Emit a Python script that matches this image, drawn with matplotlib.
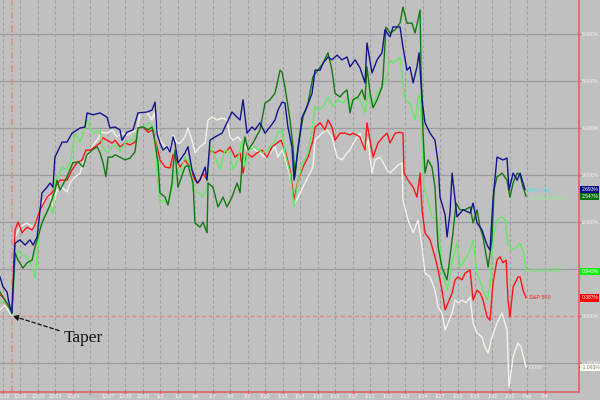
import matplotlib
matplotlib.use("Agg")
import matplotlib.pyplot as plt
import matplotlib.transforms as mtransforms

# ---- data (time in trading-day index from 12/18, values in % change) ----
day_labels = ["12/18", "12/19", "12/20", "12/23", "12/24", "", "12/27", "12/30", "12/31",
              "1/2", "1/3", "1/6", "1/7", "1/8", "1/9", "1/10", "1/13", "1/14", "1/15",
              "1/16", "1/17", "1/21", "1/22", "1/23", "1/24", "1/27", "1/28", "1/29",
              "1/30", "1/31", "Feb", "2/4"]
taper_day = 0.51

nasdaq_t = [-0.17, 0, 0.23, 0.34, 0.51, 0.69, 0.97, 1.26, 1.54, 1.72, 1.95, 2.23, 2.52, 2.69, 2.86,
            2.97, 3.38, 3.66, 3.95, 4.41, 4.69, 4.81, 5.15, 5.55, 5.95, 6.12, 6.41, 6.69, 6.81,
            7.09, 7.44, 7.72, 8.24, 8.52, 8.70, 8.81, 8.98, 9.15, 9.38, 9.55, 9.73, 9.84, 10.01,
            10.13, 10.41, 10.58, 10.81, 11.10, 11.27, 11.56, 11.67, 11.84, 12.13, 12.53, 12.81,
            13.10, 13.39, 13.56, 13.73, 13.96, 14.24, 14.42, 14.70, 14.99, 15.27, 15.56, 15.73,
            15.96, 16.13, 16.30, 16.53, 16.65, 16.82, 17.11, 17.39, 17.68, 17.85, 18.14, 18.31,
            18.59, 18.82, 19.11, 19.39, 19.68, 19.85, 20.14, 20.42, 20.71, 20.82, 21.11, 21.40,
            21.68, 21.85, 22.14, 22.31, 22.71, 22.88, 23.11, 23.28, 23.46, 23.68, 23.80, 23.97,
            24.14, 24.43, 24.71, 24.89, 25.00, 25.29, 25.40, 25.57, 25.69, 25.86, 25.97, 26.32,
            26.72, 26.89, 27.12, 27.40, 27.69, 27.86, 28.03, 28.26, 28.60, 28.83, 28.95, 29.18,
            29.41, 29.58, 29.86]
nasdaq_v = [0.83, 0.62, 0.51, 0.28, 0.06, 1.55, 1.62, 1.51, 1.62, 1.51, 1.68, 2.62, 2.74, 2.83, 2.74,
            3.38, 3.70, 3.70, 3.89, 4.00, 4.02, 4.32, 4.28, 4.32, 4.23, 4.00, 4.02, 3.96, 3.74,
            3.91, 3.96, 4.32, 4.34, 4.38, 4.55, 3.89, 3.68, 3.53, 3.60, 3.49, 3.81, 3.68, 3.26,
            3.32, 3.47, 3.60, 3.11, 2.83, 2.89, 3.17, 2.89, 3.74, 3.81, 3.89, 4.11,
            4.34, 4.23, 4.17, 4.60, 3.89, 4.02, 3.96, 4.11, 3.89, 4.02, 4.17, 4.38,
            4.55, 4.53, 4.02, 3.60, 2.89, 3.38, 4.23, 4.45, 4.74, 5.23, 5.23, 5.38,
            5.51, 5.45, 5.55, 5.45, 5.51, 5.30, 5.45, 5.28, 4.96, 5.81, 5.17, 5.45,
            5.60, 6.09, 5.94, 6.15, 6.15, 5.72, 5.23, 5.30, 4.96, 5.30, 5.60, 4.60,
            4.11, 3.89, 3.74, 3.26, 2.53, 2.15, 1.68, 2.19, 3.04, 2.47, 2.11, 2.26,
            2.19, 2.40, 1.98, 1.83, 1.51, 1.40, 2.47, 3.38, 3.32, 3.36, 2.68, 3.04,
            2.89, 3.04, 2.69]

transports_t = [-0.17, 0, 0.23, 0.51, 0.69, 0.86, 1.14, 1.37, 1.66, 1.83, 2.00, 2.23, 2.69, 2.97,
                3.09, 3.26, 3.66, 4.00, 4.29, 4.58, 4.81, 5.09, 5.38, 5.55, 5.72, 5.89, 6.01, 6.24,
                6.41, 6.69, 6.98, 7.27, 7.55, 7.72, 8.01, 8.30, 8.52, 8.64, 8.87, 8.98, 9.27, 9.44,
                9.67, 9.73, 9.84, 10.01, 10.41, 10.58, 10.87, 10.98, 11.27, 11.44, 11.67, 11.73,
                12.01, 12.30, 12.59, 12.81, 13.10, 13.39, 13.56, 13.73, 13.84, 14.02, 14.30, 14.70,
                14.99, 15.27, 15.56, 15.85, 15.96, 16.13, 16.42, 16.59, 16.70, 16.88, 17.16, 17.45,
                17.73, 18.02, 18.31, 18.59, 18.82, 18.99, 19.28, 19.45, 19.68, 19.85, 20.02, 20.31,
                20.54, 20.71, 20.82, 21.00, 21.17, 21.40, 21.68, 21.74, 21.91, 22.14, 22.43, 22.71,
                22.88, 23.11, 23.40, 23.57, 23.74, 23.86, 23.91, 24.03, 24.14, 24.31, 24.54, 24.71,
                24.89, 25.11, 25.40, 25.57, 25.74, 25.92, 26.14, 26.43, 26.72, 26.89, 27.12, 27.29,
                27.46, 27.75, 27.97, 28.09, 28.26, 28.55, 28.83, 29.00, 29.18, 29.41, 29.58, 29.75,
                29.92]
transports_v = [0.51, 0.40, 0.28, 0.06, 1.34, 1.19, 1.02, 1.13, 1.19, 1.47, 1.68, 1.98, 2.36, 2.68,
                2.89, 2.68, 2.96, 3.26, 3.28, 3.17, 3.43, 3.53, 3.60, 3.47, 3.26, 2.96, 3.38, 3.38,
                3.43, 3.38, 3.32, 3.36, 3.49, 4.00, 4.02, 3.96, 4.02, 3.81, 3.26, 2.62, 2.53, 2.36,
                2.83, 3.17, 3.53, 2.74, 3.17, 3.21, 2.83, 1.98, 1.89, 2.00, 1.77, 2.83,
                2.74, 2.32, 2.53, 2.32, 2.53, 2.83, 2.62, 3.53, 3.81, 3.53, 3.68, 3.96,
                4.53, 4.60, 4.74, 5.23, 5.19, 4.87, 4.17, 3.60, 2.96, 3.60, 4.23, 4.53,
                5.09, 5.23, 5.38, 5.60, 5.23, 4.74, 4.66, 4.74, 4.81, 4.32, 4.60, 4.66,
                4.81, 4.60, 5.30, 4.74, 4.43, 4.60, 4.87, 5.09, 6.15, 6.02, 6.09, 6.23,
                6.57, 6.23, 6.23, 6.02, 6.30, 6.51, 5.30, 3.89, 3.04, 3.32, 3.17, 2.74,
                1.47, 1.04, 0.77, 1.26, 1.77, 2.40, 2.26, 2.26, 2.32, 1.98, 2.26, 1.89,
                1.68, 1.04, 1.62, 2.68, 2.96, 3.04, 2.89, 2.53, 2.83, 3.04, 3.00, 2.74,
                2.55]

russell_t = [-0.17, 0.11, 0.40, 0.51, 0.69, 0.86, 1.09, 1.37, 1.54, 1.72, 1.83, 1.95, 2.12, 2.40,
             2.69, 2.86, 2.97, 3.15, 3.38, 3.66, 3.83, 4.00, 4.12, 4.41, 4.58, 4.81, 4.98, 5.26,
             5.55, 5.72, 5.95, 6.24, 6.52, 6.69, 6.98, 7.27, 7.55, 7.72, 8.01, 8.41, 8.70, 8.81,
             8.98, 9.15, 9.44, 9.67, 9.73, 9.90, 10.13, 10.41, 10.70, 10.87, 11.16, 11.44, 11.67,
             11.84, 12.13, 12.41, 12.70, 12.99, 13.16, 13.44, 13.67, 13.84, 14.02, 14.42, 14.82,
             15.16, 15.56, 15.73, 15.96, 16.13, 16.42, 16.65, 16.88, 17.16, 17.45, 17.68, 17.85,
             18.02, 18.31, 18.59, 18.88, 19.16, 19.45, 19.74, 19.85, 20.14, 20.42, 20.71, 20.88,
             21.11, 21.40, 21.68, 21.97, 22.14, 22.31, 22.54, 22.71, 22.88, 23.00, 23.28, 23.57,
             23.74, 23.86, 23.97, 24.08, 24.31, 24.54, 24.83, 25.00, 25.17, 25.40, 25.57, 25.74,
             25.97, 26.14, 26.43, 26.72, 26.89, 27.12, 27.40, 27.69, 27.86, 28.03, 28.26, 28.55,
             28.72, 28.89, 29.12, 29.41, 29.58, 29.75, 29.92]
russell_v = [0.28, 0.34, 0.13, 0.02, 1.15, 1.40, 1.30, 1.26, 1.15, 0.98, 0.81, 1.30, 1.89, 2.15,
             2.32, 2.19, 2.89, 2.96, 3.17, 3.11, 3.26, 3.60, 3.89, 3.70, 3.89, 4.23, 3.96, 3.89,
             3.96, 3.60, 3.47, 3.60, 3.64, 3.49, 3.68, 3.74, 3.74, 4.00, 4.02, 4.11, 3.96, 3.04,
             2.40, 2.47, 2.40, 2.68, 2.89, 3.11, 3.04, 3.38, 3.26, 2.68, 2.62, 2.53, 2.74,
             3.60, 3.38, 3.11, 3.53, 3.47, 3.11, 3.32, 3.74, 3.17, 3.53, 3.60, 3.47,
             3.53, 3.74, 3.89, 3.96, 3.47, 3.04, 2.32, 2.89, 3.26, 3.47, 3.96, 4.45,
             4.38, 4.45, 4.66, 4.45, 4.60, 4.53, 4.66, 4.45, 4.66, 4.60, 4.32, 4.74,
             4.45, 4.74, 4.87, 5.09, 5.45, 5.38, 5.45, 5.51, 4.96, 4.60, 4.53, 4.17,
             4.60, 4.74, 3.74, 2.74, 2.47, 2.11, 2.04, 1.47, 0.91, 0.55, 0.83, 1.26,
             1.55, 1.04, 1.19, 1.40, 1.62, 0.91, 0.62, 0.34, 0.62, 1.68, 2.04, 2.11,
             2.04, 1.55, 1.40, 1.47, 1.55, 1.40, 0.96]

sp500_t = [-0.17, 0, 0.23, 0.51, 0.69, 0.86, 1.09, 1.37, 1.66, 1.83, 2.12, 2.52, 2.80, 2.97, 3.26,
           3.66, 3.95, 4.23, 4.52, 4.75, 4.98, 5.26, 5.55, 5.72, 5.95, 6.24, 6.41, 6.69, 6.98,
           7.27, 7.55, 7.72, 8.01, 8.30, 8.58, 8.81, 8.98, 9.27, 9.55, 9.73, 9.95, 10.13, 10.41,
           10.70, 10.98, 11.16, 11.44, 11.67, 11.84, 12.13, 12.41, 12.70, 12.99, 13.27, 13.56,
           13.73, 13.96, 14.24, 14.53, 14.82, 15.10, 15.39, 15.68, 15.90, 16.13, 16.42, 16.65,
           16.88, 17.16, 17.45, 17.73, 17.85, 18.14, 18.42, 18.59, 18.82, 18.99, 19.28, 19.57,
           19.85, 20.02, 20.42, 20.71, 20.82, 21.00, 21.17, 21.45, 21.74, 21.97, 22.14, 22.43,
           22.71, 22.88, 22.94, 23.17, 23.46, 23.68, 23.86, 23.97, 24.14, 24.43, 24.71, 24.89,
           25.11, 25.29, 25.46, 25.69, 25.86, 26.03, 26.26, 26.43, 26.72, 26.89, 27.12, 27.29,
           27.46, 27.69, 27.86, 28.03, 28.26, 28.43, 28.60, 28.78, 28.89, 29.00, 29.18, 29.46,
           29.58, 29.75, 29.92]
sp500_v = [0.45, 0.40, 0.23, 0.09, 1.83, 2.00, 1.77, 1.89, 1.83, 1.94, 2.26, 2.53, 2.62, 2.74, 2.89,
           2.89, 3.11, 3.26, 3.32, 3.53, 3.53, 3.60, 3.68, 3.79, 3.74, 3.68, 3.74, 3.60, 3.68,
           3.64, 3.70, 4.00, 4.02, 3.91, 3.96, 3.60, 3.32, 3.17, 3.15, 3.43, 3.32, 3.17, 3.32,
           3.17, 2.89, 2.83, 3.04, 2.89, 3.53, 3.47, 3.53, 3.47, 3.60, 3.38, 3.47,
           3.04, 3.47, 3.38, 3.47, 3.53, 3.38, 3.60, 3.68, 3.74, 3.53, 3.11, 2.47,
           2.89, 3.17, 3.38, 3.74, 4.02, 4.11, 3.96, 4.17, 4.02, 3.74, 3.89, 3.89,
           3.85, 3.89, 3.81, 3.53, 4.11, 3.74, 3.38, 3.68, 3.81, 3.89, 3.68, 3.89,
           3.91, 3.89, 3.04, 2.89, 2.74, 2.53, 3.04, 2.26, 1.77, 1.62, 1.26, 0.98,
           0.55, 0.13, 0.28, 0.49, 0.77, 0.83, 0.77, 0.91, 0.98, 0.34, 0.55, 0.49,
           0.34, -0.02, -0.09, 0.70, 1.19, 1.26, 1.13, 1.19, 0.34, -0.02, 0.62, 0.83,
           0.83, 0.55, 0.39]

dow_t = [-0.17, 0.11, 0.40, 0.51, 0.69, 0.97, 1.37, 1.72, 1.95, 2.23, 2.52, 2.69, 2.86, 3.09, 3.38,
         3.66, 3.83, 4.12, 4.41, 4.58, 4.81, 5.09, 5.38, 5.66, 5.95, 6.24, 6.52, 6.81, 7.09, 7.38,
         7.67, 7.84, 8.24, 8.52, 8.64, 8.81, 8.98, 9.27, 9.55, 9.73, 9.95, 10.13, 10.41, 10.58,
         10.81, 10.98, 11.27, 11.56, 11.73, 11.96, 12.24, 12.53, 12.81, 12.99, 13.16, 13.44,
         13.73, 13.96, 14.24, 14.42, 14.70, 14.99, 15.27, 15.56, 15.73, 15.96, 16.13, 16.42,
         16.70, 16.88, 17.16, 17.45, 17.73, 17.85, 18.25, 18.54, 18.82, 19.11, 19.39, 19.68,
         19.85, 20.14, 20.42, 20.71, 20.88, 21.11, 21.28, 21.57, 21.97, 22.14, 22.60, 22.83,
         22.88, 23.17, 23.46, 23.74, 23.97, 24.14, 24.43, 24.71, 24.89, 25.11, 25.29, 25.46,
         25.69, 25.86, 26.03, 26.26, 26.49, 26.72, 26.89, 27.12, 27.40, 27.57, 27.75, 27.97,
         28.26, 28.55, 28.83, 28.95, 29.18, 29.46, 29.63, 29.92]
dow_v = [0.13, 0.23, 0.06, 0.00, 1.68, 1.89, 1.98, 1.89, 2.04, 2.40, 2.53, 2.57, 2.32, 2.68, 2.74,
         2.64, 2.83, 2.96, 3.04, 3.26, 3.38, 3.60, 3.74, 3.91, 3.89, 3.96, 3.81, 3.89, 3.85, 3.91,
         3.96, 4.32, 4.34, 4.17, 4.32, 4.02, 3.74, 3.60, 3.53, 3.85, 3.68, 3.68, 3.81, 4.00,
         3.74, 3.47, 3.60, 3.68, 4.17, 4.23, 4.17, 4.21, 4.17, 3.81, 3.74, 3.81,
         3.68, 3.53, 3.60, 3.53, 3.47, 3.38, 3.47, 3.60, 3.38, 3.53, 3.38, 2.96,
         2.40, 2.53, 2.74, 2.96, 3.17, 3.74, 3.89, 3.96, 3.81, 3.38, 3.32, 3.47,
         3.53, 3.74, 3.89, 3.53, 3.74, 3.04, 3.32, 3.38, 3.11, 3.04, 3.21, 3.26,
         2.47, 2.04, 1.77, 2.04, 1.47, 0.91, 0.83, 0.55, 0.19, 0.06, -0.30, -0.15,
         0.06, 0.34, 0.28, 0.34, 0.28, 0.40, -0.15, -0.36, -0.45, -0.66, -0.79, -0.45,
         -0.15, 0.06, -0.30, -1.51, -0.87, -0.57, -0.66, -1.09]

series_names = ["DOW", "S&P 500", "Russell 2000", "TRANSPORTS", "NASDAQ"]
last_values = [-1.093, 0.387, 0.945, 2.547, 2.693]
y_ticks = [-1, 0, 1, 2, 3, 4, 5, 6]
y_tick_labels = ["-1.000%", "0.000%", "", "2.000%", "3.000%", "4.000%", "5.000%", "6.000%"]

# ---- styling ----
BG = "#c0c0c0"
line_colors = ["#f2f2ea", "#ff1414", "#66e866", "#137813", "#14148c"]
name_colors = ["#ececec", "#ff2020", "#5cf05c", "#8cf08c", "#40e8e8"]
box_colors = ["#fffff0", "#ff0000", "#10f010", "#0a6e0a", "#0a0a80"]
box_text = ["#808080", "#ffffff", "#ffffff", "#ffffff", "#ffffff"]
name_dy = [0, 0, 0, -0.05, -0.03]
RED = "#e26262"

fig = plt.figure(figsize=(6, 4), dpi=100, facecolor=BG)
ax = fig.add_axes([0, 8 / 400, 579 / 600, 392 / 400])
ax.set_facecolor(BG)
ax.set_xlim(-0.172, 32.95)
ax.set_ylim(-1.617, 6.723)

for s in ["left", "top"]:
    ax.spines[s].set_visible(False)
for s in ["right", "bottom"]:
    ax.spines[s].set_color(RED)
    ax.spines[s].set_linewidth(1.2)

# grid
for yv in y_ticks:
    if yv == 0:
        ax.axhline(yv, color="#e08888", lw=1.0, ls=(0, (3, 2)), zorder=1)
    else:
        ax.axhline(yv, color="#9c9c9c", lw=0.9, zorder=1)
for i in range(len(day_labels)):
    ax.axvline(i, color="#a2a2a2", lw=0.8, ls=(0, (3, 2)), zorder=1)
ax.axvline(taper_day, color="#e08a8a", lw=1.2, ls=(0, (4, 1.5, 1, 1.5)), zorder=1)

# series
data = [(dow_t, dow_v), (sp500_t, sp500_v), (russell_t, russell_v),
        (transports_t, transports_v), (nasdaq_t, nasdaq_v)]
for (t, v), c in zip(data, line_colors):
    ax.plot(t, v, color=c, lw=1.0, zorder=3, solid_joinstyle="round")

# x ticks
ax.set_xticks(range(len(day_labels)))
ax.set_xticklabels(day_labels, fontsize=3.9, family="Liberation Sans")
ax.tick_params(axis="x", colors=RED, labelcolor="#f4f4f4", direction="inout", length=3, width=1, pad=0)

# y ticks on right
ax.yaxis.tick_right()
ax.set_yticks(y_ticks)
ax.set_yticklabels(y_tick_labels, fontsize=3.6, family="Liberation Sans")
ax.tick_params(axis="y", colors=RED, labelcolor="#f4f4f4", direction="out", length=1.5, width=1, pad=0.5)

# end labels and value boxes
trans = mtransforms.blended_transform_factory(ax.transAxes, ax.transData)
for (t, v), nm, nc, bc, tc, lv, dy in zip(data, series_names, name_colors, box_colors, box_text,
                                           last_values, name_dy):
    ax.text(t[-1] + 0.15, v[-1] + dy, nm, fontsize=4.0, color=nc, va="center", ha="left",
            family="Liberation Sans", zorder=4)
    ax.text(1.004, lv, f"{lv:.3f}%", transform=trans, fontsize=3.6, color=tc, va="center",
            ha="left", family="Liberation Sans", clip_on=False, zorder=5,
            bbox=dict(boxstyle="square,pad=0.25", fc=bc, ec="none"))

# Taper annotation
ax.annotate("Taper", xy=(taper_day + 0.05, 0.0), xytext=(3.45, -0.47),
            fontsize=12.5, family="Liberation Serif", color="#111111", va="center", ha="left",
            arrowprops=dict(arrowstyle="-|>", color="#111111", lw=0.9, ls=(0, (3, 2)),
                            mutation_scale=8, shrinkA=1, shrinkB=0), zorder=6)

fig.savefig("out.png", dpi=100, facecolor=BG)
